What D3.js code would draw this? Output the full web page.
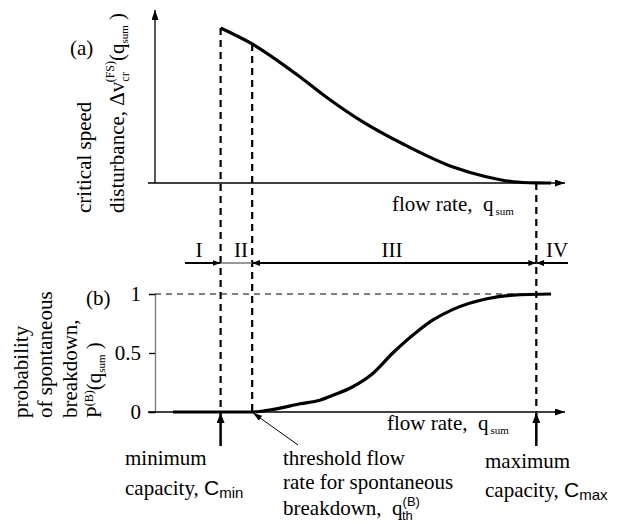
<!DOCTYPE html>
<html>
<head>
<meta charset="utf-8">
<script src="https://cdn.jsdelivr.net/npm/d3@7"></script>
<style>
  html, body { margin: 0; padding: 0; background: #fff; }
  svg { display: block; }
  text { font-family: "Liberation Serif", "Tinos", "Noto Serif", "DejaVu Serif", serif; fill: #000; }
  .sans { font-family: "Liberation Sans", "Arimo", sans-serif; }
</style>
</head>
<body>
<svg id="chart" width="619" height="525"></svg>
<script>
// Flow rate (arbitrary units, 0..100) and the characteristic capacities
const flowDomain = [0, 100];
const capacityMin = 16;      // C_min
const flowThreshold = 23.7;  // q_th^(B)
const capacityMax = 93;      // C_max

// (a) critical speed disturbance vs flow rate (normalised)
const flowA = [16, 23.7, 35.4, 41.5, 50, 61, 72.7, 81, 87.3, 93, 96.6];
const disturbanceA = [1.0, 0.897, 0.684, 0.56, 0.406, 0.245, 0.103, 0.039, 0.008, 0.001, 0.0];

// (b) probability of spontaneous breakdown vs flow rate
const flowB = [4.4, 23.7, 29.3, 35.4, 40.2, 44, 48, 52.9, 58, 63.9, 67.8, 72.7, 81, 87.3, 96.6];
const probabilityB = [0, 0, 0.025, 0.07, 0.1, 0.15, 0.21, 0.32, 0.5, 0.68, 0.78, 0.87, 0.96, 0.99, 1.0];

// Probability axis ticks
const probTicks = [0, 0.5, 1];
const probTickLabels = ["0", "0.5", "1"];

// Flow regions between the capacities
const regionLabels = ["I", "II", "III", "IV"];

const svg = d3.select("#chart");
const FS = 21;

const x = d3.scaleLinear().domain(flowDomain).range([155, 565]);
const yA = d3.scaleLinear().domain([0, 1]).range([183, 28]);
const yB = d3.scaleLinear().domain([0, 1]).range([412, 294]);

// Arrow markers
const defs = svg.append("defs");
function marker(id, len, wid, color) {
  defs.append("marker")
    .attr("id", id)
    .attr("viewBox", `0 0 ${len} ${wid}`)
    .attr("refX", len).attr("refY", wid / 2)
    .attr("markerWidth", len).attr("markerHeight", wid)
    .attr("markerUnits", "userSpaceOnUse")
    .attr("orient", "auto-start-reverse")
    .append("path")
    .attr("d", `M0,0 L${len},${wid / 2} L0,${wid} Z`)
    .attr("fill", color);
}
marker("axisHead", 10, 7, "#000");
marker("smallHead", 8, 6, "#000");
marker("bigHead", 10, 8, "#000");
marker("thinHead", 9, 6, "#000");

// ---------- Panel (a) ----------
const xAxisEnd = x(flowDomain[1]);
svg.append("line")
  .attr("x1", x(0)).attr("x2", x(0))
  .attr("y1", yA(0)).attr("y2", 10)
  .attr("stroke", "#000").attr("stroke-width", 1.3)
  .attr("marker-end", "url(#axisHead)");
svg.append("line")
  .attr("x1", x(0) - 7).attr("x2", xAxisEnd)
  .attr("y1", yA(0)).attr("y2", yA(0))
  .attr("stroke", "#000").attr("stroke-width", 1.3)
  .attr("marker-end", "url(#axisHead)");

// ---------- Panel (b) ----------
const yAxisB = d3.axisLeft(yB)
  .tickValues(probTicks)
  .tickFormat((d, i) => probTickLabels[i])
  .tickSize(6)
  .tickPadding(8);
const gB = svg.append("g").attr("transform", `translate(${x(0)},0)`).call(yAxisB);
gB.attr("font-family", null).attr("font-size", null);
gB.select(".domain").attr("stroke", "#777").attr("stroke-width", 1.3);
gB.selectAll(".tick line").attr("stroke", "#000").attr("stroke-width", 1.3);
gB.selectAll(".tick text").attr("font-size", FS).attr("fill", "#000");

svg.append("line")
  .attr("x1", x(0) - 7).attr("x2", xAxisEnd)
  .attr("y1", yB(0)).attr("y2", yB(0))
  .attr("stroke", "#000").attr("stroke-width", 1.3)
  .attr("marker-end", "url(#axisHead)");

// dashed line at probability 1
svg.append("line")
  .attr("x1", x(0)).attr("x2", x(capacityMax))
  .attr("y1", yB(1)).attr("y2", yB(1))
  .attr("stroke", "#000").attr("stroke-width", 1)
  .attr("stroke-dasharray", "6,5");

// vertical dashed guides
const dashW = 2.2, dashPat = "7,5";
svg.append("line")
  .attr("x1", x(capacityMin)).attr("x2", x(capacityMin))
  .attr("y1", yA(disturbanceA[0])).attr("y2", yB(0))
  .attr("stroke", "#000").attr("stroke-width", dashW).attr("stroke-dasharray", dashPat);
svg.append("line")
  .attr("x1", x(flowThreshold)).attr("x2", x(flowThreshold))
  .attr("y1", yA(disturbanceA[1])).attr("y2", yB(0))
  .attr("stroke", "#000").attr("stroke-width", dashW).attr("stroke-dasharray", dashPat);
svg.append("line")
  .attr("x1", x(capacityMax)).attr("x2", x(capacityMax))
  .attr("y1", yA(0)).attr("y2", yB(0))
  .attr("stroke", "#000").attr("stroke-width", dashW).attr("stroke-dasharray", dashPat);

// curves
const lineA = d3.line().x((d, i) => x(flowA[i])).y(d => yA(d)).curve(d3.curveMonotoneX);
svg.append("path").datum(disturbanceA)
  .attr("d", lineA).attr("fill", "none")
  .attr("stroke", "#000").attr("stroke-width", 3.2).attr("stroke-linejoin", "round");

const lineB = d3.line().x((d, i) => x(flowB[i])).y(d => yB(d)).curve(d3.curveMonotoneX);
svg.append("path").datum(probabilityB)
  .attr("d", lineB).attr("fill", "none")
  .attr("stroke", "#000").attr("stroke-width", 3.2).attr("stroke-linejoin", "round");

// ---------- Region arrows ----------
const rY = 263;
svg.append("line")
  .attr("x1", 185).attr("x2", x(capacityMin))
  .attr("y1", rY).attr("y2", rY)
  .attr("stroke", "#000").attr("stroke-width", 2)
  .attr("marker-end", "url(#smallHead)");
svg.append("line")
  .attr("x1", x(capacityMin)).attr("x2", x(flowThreshold))
  .attr("y1", rY).attr("y2", rY)
  .attr("stroke", "#777").attr("stroke-width", 1.5);
svg.append("line")
  .attr("x1", x(flowThreshold)).attr("x2", x(capacityMax))
  .attr("y1", rY).attr("y2", rY)
  .attr("stroke", "#000").attr("stroke-width", 2)
  .attr("marker-start", "url(#smallHead)")
  .attr("marker-end", "url(#smallHead)");
svg.append("line")
  .attr("x1", 568).attr("x2", x(capacityMax))
  .attr("y1", rY).attr("y2", rY)
  .attr("stroke", "#000").attr("stroke-width", 2)
  .attr("marker-end", "url(#smallHead)");

const regionX = [199, 241, 392, 557];
svg.selectAll("text.region").data(regionLabels).join("text")
  .attr("class", "region")
  .attr("x", (d, i) => regionX[i]).attr("y", 257)
  .attr("text-anchor", "middle")
  .attr("font-size", FS)
  .text(d => d);

// ---------- Annotation arrows ----------
[capacityMin, capacityMax].forEach(c => {
  svg.append("line")
    .attr("x1", x(c)).attr("x2", x(c))
    .attr("y1", 446).attr("y2", yB(0) + 1)
    .attr("stroke", "#000").attr("stroke-width", 2.5)
    .attr("marker-end", "url(#bigHead)");
});
svg.append("line")
  .attr("x1", 298).attr("y1", 445)
  .attr("x2", x(flowThreshold) + 1).attr("y2", yB(0) + 1)
  .attr("stroke", "#000").attr("stroke-width", 1)
  .attr("marker-end", "url(#thinHead)");

// ---------- Text ----------
function txt(xp, yp, s, opts = {}) {
  return svg.append("text").attr("x", xp).attr("y", yp)
    .attr("font-size", opts.size || FS).attr("xml:space", "preserve").text(s);
}

txt(70, 55, "(a)");
txt(86, 305, "(b)");

// x axis titles
function flowTitle(xp, yp) {
  const t = svg.append("text").attr("x", xp).attr("y", yp).attr("font-size", FS)
    .attr("xml:space", "preserve");
  t.append("tspan").text("flow rate,  q");
  t.append("tspan").attr("font-size", 11).attr("dy", 4).attr("dx", 2).text("sum");
}
flowTitle(392, 211);
flowTitle(387, 430);

// bottom annotations
txt(125, 465, "minimum");
{
  const t = txt(125, 495, "capacity, ");
  t.append("tspan").attr("class", "sans").text("C");
  t.append("tspan").attr("class", "sans").attr("font-size", 15).attr("dy", 3).text("min");
}
txt(283, 465, "threshold flow");
txt(283, 489, "rate for spontaneous");
{
  const t = txt(283, 515, "breakdown,  ");
  t.append("tspan").text("q");
  const sup = t.append("tspan").attr("class", "sans").attr("font-size", 13).attr("dy", -9).text("(B)");
  t.append("tspan").attr("class", "sans").attr("font-size", 13).attr("dx", -18).attr("dy", 14).text("th");
}
txt(485, 468, "maximum");
{
  const t = txt(485, 497, "capacity, ");
  t.append("tspan").attr("class", "sans").text("C");
  t.append("tspan").attr("class", "sans").attr("font-size", 15).attr("dy", 3).text("max");
}

// rotated y axis titles
function rotText(bx, by) {
  return svg.append("text")
    .attr("transform", `translate(${bx},${by}) rotate(-90)`)
    .attr("font-size", FS).attr("xml:space", "preserve");
}
// panel (a)
rotText(91, 213).text("critical speed");
{
  const t = rotText(124, 213);
  t.append("tspan").text("disturbance, Δv");
  t.append("tspan").attr("font-size", 12).attr("dy", 5).text("cr");
  t.append("tspan").attr("font-size", 12).attr("dx", -10).attr("dy", -15).text("(FS)");
  t.append("tspan").attr("dy", 10).text("(q");
  t.append("tspan").attr("font-size", 11).attr("dy", 4).text("sum");
  t.append("tspan").attr("dy", -4).text(" )");
}
// panel (b)
rotText(28, 418).text("probability");
rotText(52, 418).text("of spontaneous");
rotText(77, 418).text("breakdown,");
{
  const t = rotText(101, 418);
  t.append("tspan").text("P");
  t.append("tspan").attr("font-size", 12).attr("dy", -8).text("(B)");
  t.append("tspan").attr("dy", 8).text("(q");
  t.append("tspan").attr("font-size", 11).attr("dy", 4).text("sum");
  t.append("tspan").attr("dy", -4).text(" )");
}
</script>
</body>
</html>
